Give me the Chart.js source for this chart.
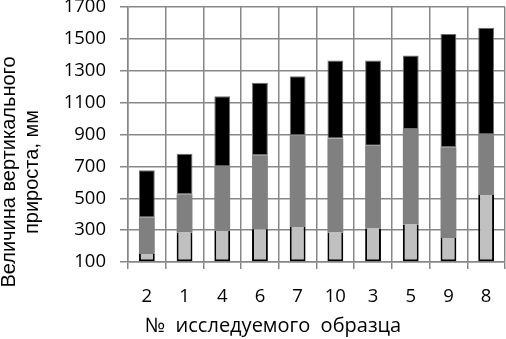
<!DOCTYPE html>
<html>
<head>
<meta charset="utf-8">
<script src="https://cdn.jsdelivr.net/npm/chart.js@4/dist/chart.umd.min.js"></script>
<style>
html,body{margin:0;padding:0;background:#fff;}
#wrap{width:506px;height:339px;}
</style>
</head>
<body>
<div id="wrap"><canvas id="c" width="506" height="339"></canvas></div>
<script>
const categories = ['2', '1', '4', '6', '7', '10', '3', '5', '9', '8'];
const lightPart  = [150, 285, 295, 305, 320, 285, 310, 335, 250, 520];
const mediumPart = [230, 240, 405, 465, 575, 590, 520, 600, 570, 380];
const darkPart   = [295, 255, 440, 455, 370, 490, 535, 460, 710, 670];
const yMin = 100, yMax = 1700, yStep = 200;
const xTitle = '№  исследуемого  образца';
const yTitle = ['Величина вертикального', 'прироста, мм'];

const gridColor = '#878787';
const tickFont = {family: '"Open Sans", "Liberation Sans", sans-serif', size: 18.5};

const titlePlugin = {
  id: 'axisTitles',
  afterDraw(chart) {
    const ctx = chart.ctx, a = chart.chartArea;
    ctx.save();
    ctx.fillStyle = '#000';
    ctx.textAlign = 'center';
    ctx.textBaseline = 'middle';
    ctx.font = '20px "Open Sans", "Liberation Sans", sans-serif';
    ctx.fillText(xTitle, a.left + 145, a.bottom + 64);
    ctx.font = '20px "Liberation Sans", Arial, sans-serif';
    ctx.translate(a.left - 109, a.top + 165);
    ctx.rotate(-Math.PI / 2);
    ctx.fillText(yTitle[0], 0, -10);
    ctx.fillText(yTitle[1], 0, 13);
    ctx.restore();
  }
};

new Chart(document.getElementById('c'), {
  type: 'bar',
  data: {
    labels: categories,
    datasets: [
      {data: lightPart, backgroundColor: '#c0c0c0', borderColor: '#000',
       borderWidth: {left: 2, right: 2, bottom: 2, top: 0}, borderSkipped: false, base: yMin},
      {data: mediumPart, backgroundColor: '#808080', borderWidth: 0},
      {data: darkPart, backgroundColor: '#000', borderColor: '#6f6f6f', borderWidth: 1, borderSkipped: false}
    ]
  },
  options: {
    responsive: false,
    animation: false,
    events: [],
    layout: {padding: {left: 0, right: 1, top: 7, bottom: 0}},
    plugins: {legend: {display: false}, tooltip: {enabled: false}},
    datasets: {bar: {categoryPercentage: 1, barPercentage: 0.42}},
    scales: {
      x: {
        stacked: true,
        grid: {color: gridColor, lineWidth: 1.5, tickLength: 7, offset: true},
        border: {color: gridColor, width: 1.5},
        ticks: {color: '#000', font: tickFont, padding: 17, maxRotation: 0},
        afterFit(s) { s.height = 77; s.paddingLeft = 0; s.paddingRight = 0; }
      },
      y: {
        stacked: true,
        min: yMin, max: yMax,
        grid: {color: gridColor, lineWidth: 1.5, tickLength: 8},
        border: {color: gridColor, width: 1.5},
        ticks: {color: '#000', font: tickFont, stepSize: yStep, padding: 14,
                callback: v => String(v)},
        afterFit(s) { s.width = 128; s.paddingTop = 0; s.paddingBottom = 0; }
      }
    }
  },
  plugins: [titlePlugin]
});
</script>
</body>
</html>
